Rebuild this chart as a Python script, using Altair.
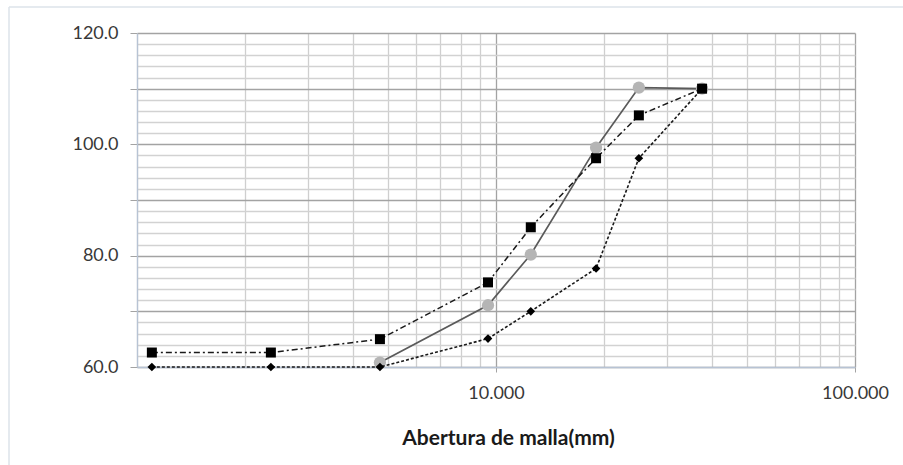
import altair as alt
import pandas as pd

# ---- data ----
sieve_mm = [1.1, 2.36, 4.75, 9.5, 12.5, 19.0, 25.0, 37.5]
serie_cuadrados = [62.6, 62.6, 65.0, 75.2, 85.1, 97.5, 105.2, 110.0]
circulos_mm = [4.75, 9.5, 12.5, 19.0, 25.0, 37.5]
serie_circulos = [60.8, 71.1, 80.2, 99.4, 110.2, 110.0]
serie_rombos = [60.0, 60.0, 60.0, 65.1, 70.0, 77.7, 97.5, 110.0]

x_ticks = [1, 2, 3, 4, 5, 6, 7, 8, 9, 10, 20, 30, 40, 50, 60, 70, 80, 90, 100]
y_ticks = list(range(60, 121, 2))

df_sq = pd.DataFrame({"x": sieve_mm, "y": serie_cuadrados})
df_ci = pd.DataFrame({"x": circulos_mm, "y": serie_circulos})
df_ro = pd.DataFrame({"x": sieve_mm, "y": serie_rombos})

FONT = "Lato"

x_enc = alt.X(
    "x:Q",
    scale=alt.Scale(type="log", domain=[1, 100]),
    axis=alt.Axis(
        values=x_ticks,
        labelExpr="(datum.value == 10 || datum.value == 100) ? format(datum.value, '.3f') : ''",
        grid=True,
        gridColor={"condition": {"test": "datum.value == 10 || datum.value == 100", "value": "#a3a3a3"}, "value": "#cfcfcf"},
        gridWidth=1.3,
        tickColor={"condition": {"test": "datum.value == 10 || datum.value == 100", "value": "#a3a3a3"}, "value": "transparent"},
        tickSize=5,
        domainColor="#b7c3d4",
        domainWidth=1.3,
        labelFont=FONT,
        labelFontSize=18,
        labelColor="#383838",
        labelPadding=12,
        labelFlush=False,
        labelOverlap=False,
        title="Abertura de malla(mm)",
        titleFont=FONT,
        titleFontSize=21,
        titleFontWeight="bold",
        titleColor="#1a1a1a",
        titleX=371,
        titleY=71,
        titleAlign="center",
        titleBaseline="middle",
    ),
)

y_enc = alt.Y(
    "y:Q",
    scale=alt.Scale(domain=[60, 120], nice=False, zero=False),
    axis=alt.Axis(
        values=y_ticks,
        labelExpr="datum.value % 20 == 0 ? format(datum.value, '.1f') : ''",
        grid=True,
        gridColor={"condition": {"test": "datum.value % 10 == 0", "value": "#a3a3a3"}, "value": "#d2d2d2"},
        gridWidth=1.3,
        tickColor={"condition": {"test": "datum.value % 10 == 0", "value": "#a3a3a3"}, "value": "transparent"},
        tickSize=7,
        domainColor="#b7c3d4",
        domainWidth=1.3,
        labelFont=FONT,
        labelFontSize=18,
        labelColor="#383838",
        labelPadding=12,
        labelOverlap=False,
        title=None,
    ),
)

# outer chart frame (decoration)
frame_df = pd.DataFrame({"a": [0]})
frame_top = alt.Chart(frame_df).mark_rule(color="#dde3ea", strokeWidth=1.5, clip=False).encode(
    x=alt.value(-128), x2=alt.value(780), y=alt.value(-26)
)
frame_left = alt.Chart(frame_df).mark_rule(color="#dde3ea", strokeWidth=1.5, clip=False).encode(
    x=alt.value(-128), y=alt.value(-26), y2=alt.value(440)
)

ci_line = alt.Chart(df_ci).mark_line(color="#5a5a5a", strokeWidth=1.7).encode(x=x_enc, y=y_enc)
ci_pts = alt.Chart(df_ci).mark_circle(color="#b5b5b5", size=150, opacity=1).encode(x=x_enc, y=y_enc)

ro_line = alt.Chart(df_ro).mark_line(color="#1a1a1a", strokeWidth=1.6, strokeDash=[3, 2]).encode(x=x_enc, y=y_enc)
ro_pts = alt.Chart(df_ro).mark_point(shape="diamond", filled=True, color="#000000", size=75, opacity=1).encode(x=x_enc, y=y_enc)

sq_line = alt.Chart(df_sq).mark_line(color="#1a1a1a", strokeWidth=1.5, strokeDash=[6, 3, 2, 3]).encode(x=x_enc, y=y_enc)
sq_pts = alt.Chart(df_sq).mark_square(color="#000000", size=100, opacity=1).encode(x=x_enc, y=y_enc)

chart = alt.layer(
    frame_top, frame_left,
    ci_line, ci_pts, ro_line, ro_pts, sq_line, sq_pts,
).properties(
    width=718,
    height=334,
    autosize=alt.AutoSizeParams(type="none"),
    padding={"left": 137, "top": 33, "right": 48, "bottom": 98},
    background="white",
).configure_view(stroke=None)

chart.save("out.html", embed_options={"renderer": "svg", "actions": False})
